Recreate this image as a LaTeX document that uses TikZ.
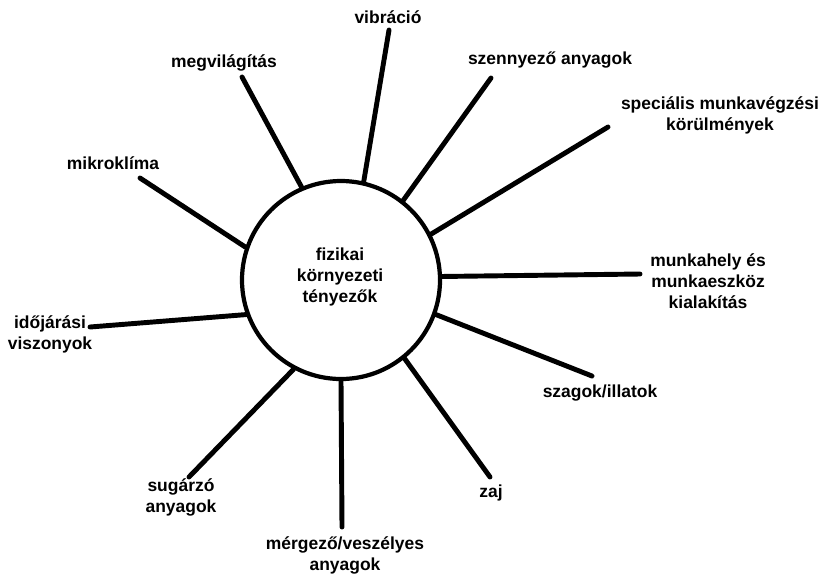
\documentclass[tikz,border=0pt]{standalone}
\usepackage{fontspec}
\setmainfont{Liberation Sans}
\usetikzlibrary{positioning}

\tikzset{
  factor/.style={font=\fontsize{14.9}{17.9}\selectfont\bfseries,align=center,inner sep=1pt},
  spoke/.style={line width=4.2pt,line cap=round}
}

\begin{document}
\begin{tikzpicture}[x=0.03cm,y=-0.03cm]
  \useasboundingbox (0,0) rectangle (821,574);
  \node[circle,draw,line width=3.6pt,minimum size=5.94cm,inner sep=0pt] (hub) at (341,280) {};
  \node[factor] (hubtext) at (340,277) {fizikai\\környezeti\\tényezők};
  % factors round the circle: angle on the circle / free end / label position / text
  \foreach \ang/\ex/\ey/\lx/\ly/\txt [count=\i] in {
      77/389/30/388/17/{vibráció},
      113/242/77/224/63/{megvilágítás},
      52/491/78/550/60/{szennyező anyagok},
      27/608/127/720/115/{speciális munkavégzési\\körülmények},
      2/640/274/708/281/{munkahely és\\munkaeszköz\\kialakítás},
      -20/592/376/600/393/{szagok/illatok},
      -51/490/477/491/493/{zaj},
      -90/342/527/345/555/{mérgező/veszélyes\\anyagok},
      242/189/477/181/497/{sugárzó\\anyagok},
      200/90/327/50/334/{időjárási\\viszonyok},
      161/140/178/113/163/{mikroklíma}}{
    \node[factor] (f\i) at (\lx,\ly) {\txt};
    \coordinate (e\i) at (\ex,\ey);
    \draw[spoke] (e\i) -- (hub.\ang);
  }
\end{tikzpicture}
\end{document}
